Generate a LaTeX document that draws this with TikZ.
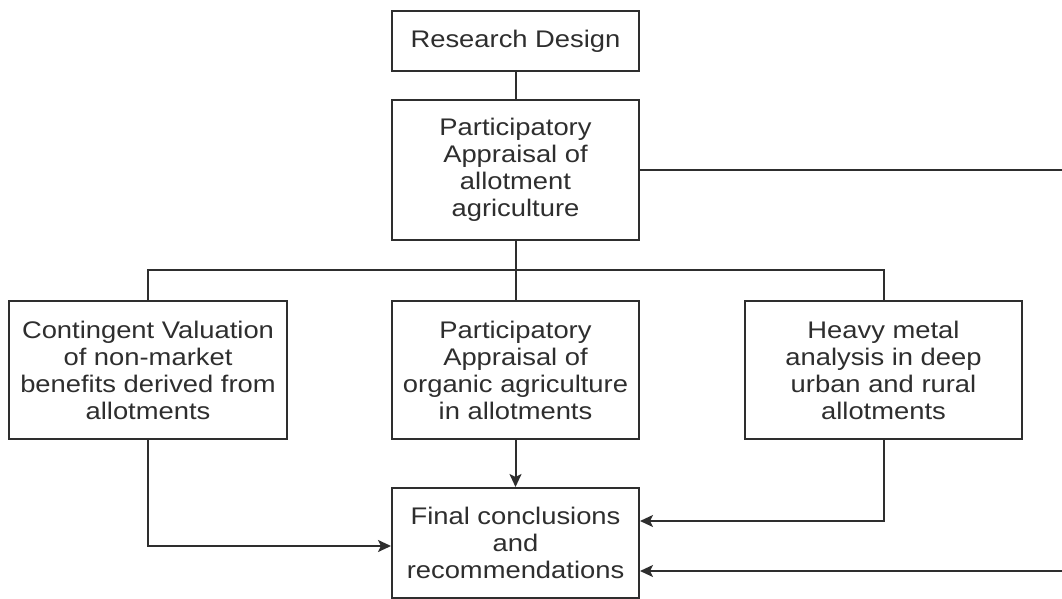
\documentclass[tikz,border=0pt]{standalone}
\usepackage{fontspec}
\setmainfont{Liberation Sans}[FakeStretch=1.14]
\usetikzlibrary{arrows.meta}
\definecolor{ink}{HTML}{2E2E2E}
\begin{document}
\begin{tikzpicture}[x=1pt,y=-1pt,
  box/.style={draw=ink, line width=2pt, text=ink, align=center, inner sep=0pt,
    font=\fontsize{24}{27}\selectfont},
  conn/.style={draw=ink, line width=2pt},
  arr/.style={conn, -{Stealth[length=13pt,width=12pt,inset=3pt]}}]
\clip (0,0) rectangle (1062,599);
\fill[white] (0,0) rectangle (1062,599);
\node[box, minimum width=247, minimum height=60] (rd) at (515.5,41) {Research Design};
\node[box, minimum width=247, minimum height=140] (pa) at (515.5,170) {Participatory\\Appraisal of\\allotment\\agriculture};
\node[box, minimum width=278, minimum height=138] (cv) at (148,370) {Contingent Valuation\\of non-market\\benefits derived from\\allotments};
\node[box, minimum width=247, minimum height=138] (po) at (515.5,370) {Participatory\\Appraisal of\\organic agriculture\\in allotments};
\node[box, minimum width=277, minimum height=138] (hm) at (883.5,370) {Heavy metal\\analysis in deep\\urban and rural\\allotments};
\node[box, minimum width=247, minimum height=110] (fc) at (515.5,543) {Final conclusions\\and\\recommendations};
\coordinate (bar) at (515.5,270);
\coordinate (re) at (pa.east -| 1075,0);
\draw[conn] (rd.south) -- (pa.north);
\draw[conn] (pa.south) -- (po.north);
\draw[conn] (cv.north) |- (bar) -| (hm.north);
\draw[conn] (pa.east) -- (re);
\draw[arr] (re) |- (fc.east |- 0,571);
\draw[arr] (po.south) -- (fc.north);
\draw[arr] (hm.south) |- (fc.east |- 0,521);
\draw[arr] (cv.south) |- (fc.west |- 0,546);
\end{tikzpicture}
\end{document}
